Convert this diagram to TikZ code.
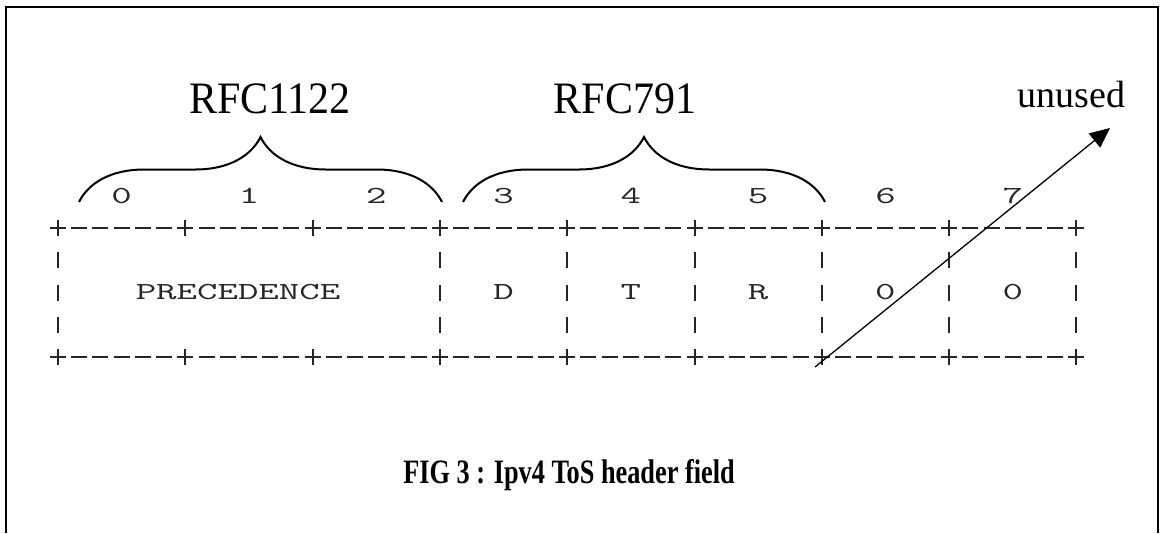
\documentclass[tikz,border=0pt]{standalone}
\usepackage{fontspec}
\setmainfont{Liberation Serif}
\usepackage{graphicx}
\usetikzlibrary{arrows.meta,decorations.pathreplacing}
\newcommand{\stretchtt}[1]{\scalebox{1.62}[1]{\ttfamily #1}}

\begin{document}
\begin{tikzpicture}[x=1pt,y=-1pt,
  rfclabel/.style={font=\fontsize{42}{42}\selectfont, anchor=base, inner sep=0pt},
  rfcbrace/.style={decorate, decoration={brace, amplitude=65pt}, line width=2pt},
  bitlabel/.style={font=\fontsize{24.5}{24.5}\selectfont, anchor=base, inner sep=0pt, black!85},
  asciirow/.style={line width=2pt, black!85, dash pattern=on 16pt off 5.2167pt},
  asciibar/.style={line width=2pt, black!85, dash pattern=on 16pt off 16.3pt},
  asciitick/.style={line width=2pt, black!85}]
  \useasboundingbox (0,0) rectangle (1162,533);
  % open frame
  \draw[line width=2pt] (6,533) -- (6,7) -- (1158,7) -- (1158,533);

  % RFC groups
  \node[rfclabel] (rfc1122) at (270,113) {\scalebox{1}[1.07]{RFC1122}};
  \node[rfclabel] (rfc791) at (625,113) {\scalebox{1}[1.07]{RFC791}};
  \node[rfclabel, font=\fontsize{38}{38}\selectfont] (unused) at (1071.5,107) {unused};
  \coordinate (lowstart) at (79,202);
  \coordinate (lowend) at (442,202);
  \coordinate (midstart) at (463,202);
  \coordinate (midend) at (825,202);
  \draw[rfcbrace] (lowstart) -- (lowend);
  \draw[rfcbrace] (midstart) -- (midend);

  % bit numbers
  \foreach \b in {0,...,7}
    \node[bitlabel] (bit\b) at ({121.7+127.3*\b},203) {\stretchtt{\b}};

  % ascii table
  \draw[asciirow] (50,228) -- (1084.4,228);
  \draw[asciirow] (50,357.2) -- (1084.4,357.2);
  \foreach \k in {0,3,4,5,6,7,8}
    \draw[asciibar] ({58+127.3*\k},220) -- ({58+127.3*\k},365.2);
  \foreach \k in {1,2} {
    \draw[asciitick] ({58+127.3*\k},220) -- ({58+127.3*\k},236);
    \draw[asciitick] ({58+127.3*\k},349.2) -- ({58+127.3*\k},365.2);
  }
  \node[bitlabel] (prec) at (238,299) {\stretchtt{PRECEDENCE}};
  \foreach \name/\lab/\col in {delay/D/21, thru/T/27, rel/R/33, sixth/0/39, seventh/0/45}
    \node[bitlabel] (\name) at ({58+21.2167*\col},299) {\stretchtt{\lab}};

  % unused bits
  \coordinate (tail) at (815,367);
  \coordinate (tip) at (1110,128);
  \draw[line width=1.3pt, -{Triangle[length=20pt,width=18pt]}] (tail) -- (tip);

  \node[anchor=base, font=\bfseries\fontsize{26.3}{26.3}\selectfont] (caption) at (569,483)
    {\scalebox{1}[1.3]{FIG 3 : Ipv4 ToS header field}};
\end{tikzpicture}
\end{document}
